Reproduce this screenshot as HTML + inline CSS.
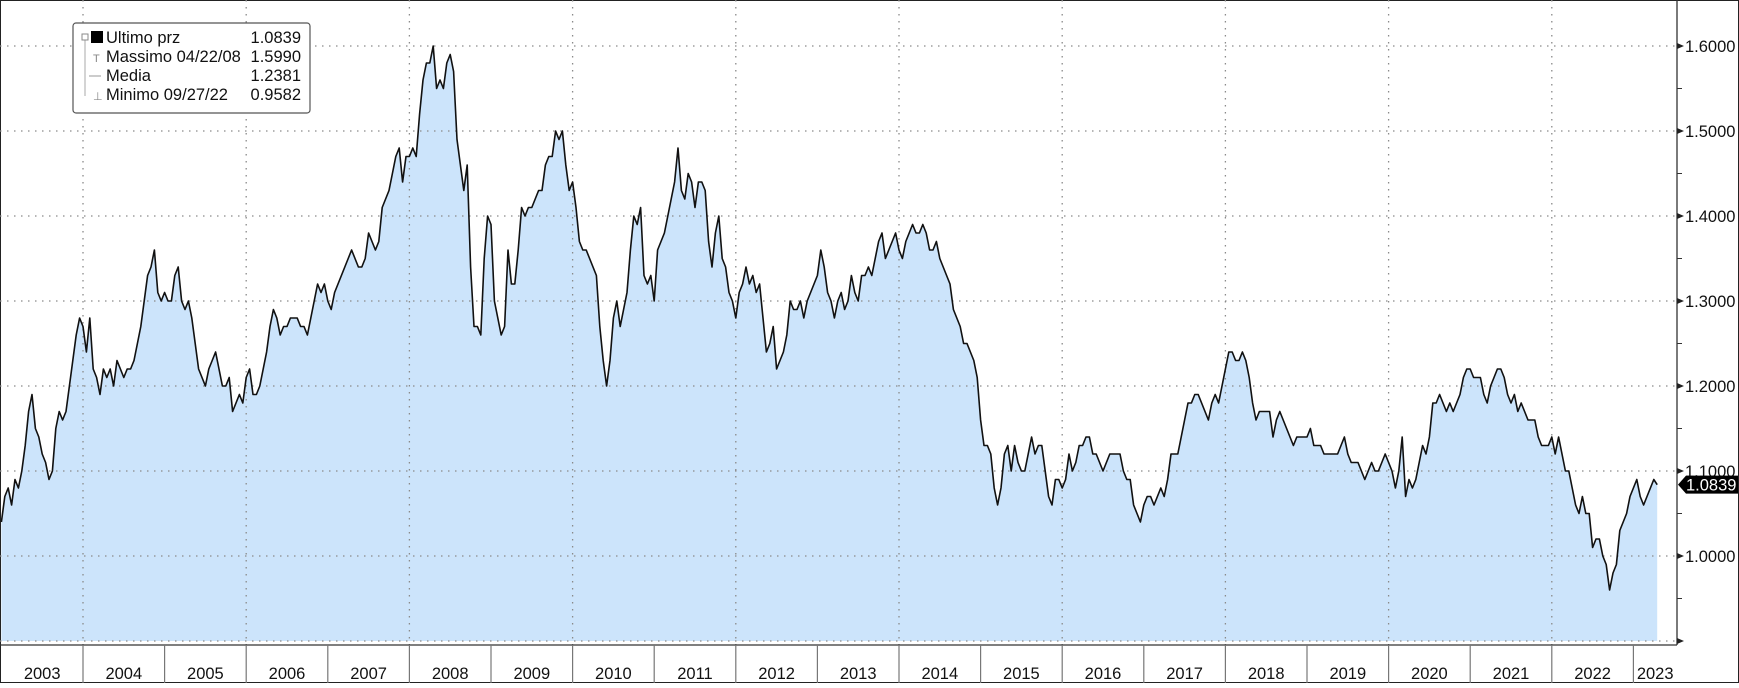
<!DOCTYPE html>
<html><head><meta charset="utf-8">
<style>
html,body{margin:0;padding:0;background:#fff;}
body{width:1739px;height:683px;overflow:hidden;font-family:"Liberation Sans",sans-serif;}
svg text{font-family:"Liberation Sans",sans-serif;}
</style></head>
<body>
<svg id="chart" width="1739" height="683" viewBox="0 0 1739 683" xmlns="http://www.w3.org/2000/svg">
  <rect x="0.5" y="0.5" width="1738" height="682" fill="#fff" stroke="#222" stroke-width="1"/>
  <g id="grid"></g>
  <path id="area" fill="#cce4fb" stroke="none"/>
  <g id="grid2"></g>
  <path id="line" fill="none" stroke="#111" stroke-width="1.6" stroke-linejoin="round"/>
  <g id="axes"></g>
  <g id="legend">
    <rect x="73" y="23" width="237" height="90" rx="3" fill="#fff" stroke="#555" stroke-width="1.2"/>
    <line x1="85" y1="40" x2="85" y2="96" stroke="#aaa"/>
    <rect x="82" y="34" width="6" height="6" fill="#fff" stroke="#888"/>
    <rect x="91" y="31" width="12" height="12" fill="#000"/>
    <text x="106" y="43" font-size="16.5" fill="#111">Ultimo prz</text>
    <text x="301" y="43" font-size="16.5" fill="#111" text-anchor="end">1.0839</text>
    <text x="93" y="62" font-size="11" fill="#888">T</text>
    <text x="106" y="62" font-size="16.5" fill="#111">Massimo 04/22/08</text>
    <text x="301" y="62" font-size="16.5" fill="#111" text-anchor="end">1.5990</text>
    <line x1="89" y1="76" x2="101" y2="76" stroke="#999"/>
    <text x="106" y="81" font-size="16.5" fill="#111">Media</text>
    <text x="301" y="81" font-size="16.5" fill="#111" text-anchor="end">1.2381</text>
    <text x="93" y="100" font-size="11" fill="#888">⊥</text>
    <text x="106" y="100" font-size="16.5" fill="#111">Minimo 09/27/22</text>
    <text x="301" y="100" font-size="16.5" fill="#111" text-anchor="end">0.9582</text>
  </g>
  <g id="lastlabel"></g>
</svg>
<script>
const startYear = 2003;
const years = [2003,2004,2005,2006,2007,2008,2009,2010,2011,2012,2013,2014,2015,2016,2017,2018,2019,2020,2021,2022,2023];
const yTicks = [0.9,1.0,1.1,1.2,1.3,1.4,1.5,1.6];
const yTickLabels = ["","1.0000","1.1000","1.2000","1.3000","1.4000","1.5000","1.6000"];
const lastValue = 1.0839;
// semi-monthly EUR/USD values
const v2003 = [1.04,1.07,1.08,1.06,1.09,1.08,1.10,1.13,1.17,1.19,1.15,1.14,1.12,1.11,1.09,1.10,1.15,1.17,1.16,1.17,1.20,1.23,1.26,1.28];
const v2004 = [1.27,1.24,1.28,1.22,1.21,1.19,1.22,1.21,1.22,1.20,1.23,1.22,1.21,1.22,1.22,1.23,1.25,1.27,1.30,1.33,1.34,1.36,1.31,1.30];
const v2005 = [1.31,1.30,1.30,1.33,1.34,1.30,1.29,1.30,1.28,1.25,1.22,1.21,1.20,1.22,1.23,1.24,1.22,1.20,1.20,1.21,1.17,1.18,1.19,1.18];
const v2006 = [1.21,1.22,1.19,1.19,1.20,1.22,1.24,1.27,1.29,1.28,1.26,1.27,1.27,1.28,1.28,1.28,1.27,1.27,1.26,1.28,1.30,1.32,1.31,1.32];
const v2007 = [1.30,1.29,1.31,1.32,1.33,1.34,1.35,1.36,1.35,1.34,1.34,1.35,1.38,1.37,1.36,1.37,1.41,1.42,1.43,1.45,1.47,1.48,1.44,1.47];
const v2008 = [1.47,1.48,1.47,1.52,1.56,1.58,1.58,1.60,1.55,1.56,1.55,1.58,1.59,1.57,1.49,1.46,1.43,1.46,1.34,1.27,1.27,1.26,1.35,1.40];
const v2009 = [1.39,1.30,1.28,1.26,1.27,1.36,1.32,1.32,1.36,1.41,1.40,1.41,1.41,1.42,1.43,1.43,1.46,1.47,1.47,1.50,1.49,1.50,1.46,1.43];
const v2010 = [1.44,1.41,1.37,1.36,1.36,1.35,1.34,1.33,1.27,1.23,1.20,1.23,1.28,1.30,1.27,1.29,1.31,1.36,1.40,1.39,1.41,1.33,1.32,1.33];
const v2011 = [1.30,1.36,1.37,1.38,1.40,1.42,1.44,1.48,1.43,1.42,1.45,1.44,1.41,1.44,1.44,1.43,1.37,1.34,1.38,1.40,1.35,1.34,1.31,1.30];
const v2012 = [1.28,1.31,1.32,1.34,1.32,1.33,1.31,1.32,1.28,1.24,1.25,1.27,1.22,1.23,1.24,1.26,1.30,1.29,1.29,1.30,1.28,1.30,1.31,1.32];
const v2013 = [1.33,1.36,1.34,1.31,1.30,1.28,1.30,1.31,1.29,1.30,1.33,1.31,1.30,1.33,1.33,1.34,1.33,1.35,1.37,1.38,1.35,1.36,1.37,1.38];
const v2014 = [1.36,1.35,1.37,1.38,1.39,1.38,1.38,1.39,1.38,1.36,1.36,1.37,1.35,1.34,1.33,1.32,1.29,1.28,1.27,1.25,1.25,1.24,1.23,1.21];
const v2015 = [1.16,1.13,1.13,1.12,1.08,1.06,1.08,1.12,1.13,1.10,1.13,1.11,1.10,1.10,1.12,1.14,1.12,1.13,1.13,1.10,1.07,1.06,1.09,1.09];
const v2016 = [1.08,1.09,1.12,1.10,1.11,1.13,1.13,1.14,1.14,1.12,1.12,1.11,1.10,1.11,1.12,1.12,1.12,1.12,1.10,1.09,1.09,1.06,1.05,1.04];
const v2017 = [1.06,1.07,1.07,1.06,1.07,1.08,1.07,1.09,1.12,1.12,1.12,1.14,1.16,1.18,1.18,1.19,1.19,1.18,1.17,1.16,1.18,1.19,1.18,1.20];
const v2018 = [1.22,1.24,1.24,1.23,1.23,1.24,1.23,1.21,1.18,1.16,1.17,1.17,1.17,1.17,1.14,1.16,1.17,1.16,1.15,1.14,1.13,1.14,1.14,1.14];
const v2019 = [1.14,1.15,1.13,1.13,1.13,1.12,1.12,1.12,1.12,1.12,1.13,1.14,1.12,1.11,1.11,1.11,1.10,1.09,1.10,1.11,1.10,1.10,1.11,1.12];
const v2020 = [1.11,1.10,1.08,1.10,1.14,1.07,1.09,1.08,1.09,1.11,1.13,1.12,1.14,1.18,1.18,1.19,1.18,1.17,1.18,1.17,1.18,1.19,1.21,1.22];
const v2021 = [1.22,1.21,1.21,1.21,1.19,1.18,1.20,1.21,1.22,1.22,1.21,1.19,1.18,1.19,1.17,1.18,1.17,1.16,1.16,1.16,1.14,1.13,1.13,1.13];
const v2022 = [1.14,1.12,1.14,1.12,1.10,1.10,1.08,1.06,1.05,1.07,1.05,1.05,1.01,1.02,1.02,1.00,0.99,0.96,0.98,0.99,1.03,1.04,1.05,1.07];
const v2023 = [1.08,1.09,1.07,1.06,1.07,1.08,1.09,1.0839];

const series = [].concat(v2003,v2004,v2005,v2006,v2007,v2008,v2009,v2010,v2011,v2012,v2013,v2014,v2015,v2016,v2017,v2018,v2019,v2020,v2021,v2022,v2023);

const NS = "http://www.w3.org/2000/svg";
const X0 = 1.4, YEARW = 81.6, AXX = 1677, AXY = 645;
function xT(t){ return X0 + (t - startYear) * YEARW; }
function yV(v){ return 556 - (v - 1.0) * 850; }
function mk(tag, attrs, parent){ const e = document.createElementNS(NS, tag); for (const k in attrs) e.setAttribute(k, attrs[k]); parent.appendChild(e); return e; }

let d = "";
series.forEach((v, i) => {
  const x = xT(startYear + i / 24), y = yV(v);
  d += (i ? "L" : "M") + x.toFixed(1) + "," + y.toFixed(1);
});
const lastX = xT(startYear + (series.length - 1) / 24);
document.getElementById("line").setAttribute("d", d);
document.getElementById("area").setAttribute("d", d + "L" + lastX.toFixed(1) + "," + yV(0.9) + "L" + xT(startYear) + "," + yV(0.9) + "Z");

const grid = document.getElementById("grid2");
yTicks.forEach(v => {
  const g = mk("line", {x1: 0, x2: AXX, y1: yV(v), y2: yV(v), stroke: "#8a8a8a", "stroke-width": 1.3, "stroke-dasharray": "1.5 5.5"}, grid);
  
  
});
years.forEach(yr => {
  if (yr % 2 === 0) {
    const g = mk("line", {x1: xT(yr), x2: xT(yr), y1: 0, y2: AXY, stroke: "#8a8a8a", "stroke-width": 1.3, "stroke-dasharray": "1.5 5.5"}, grid);
    
    
  }
});

const axes = document.getElementById("axes");
const ya = mk("line", {x1: AXX, x2: AXX, y1: 0, y2: AXY, stroke: "#333", "stroke-width": 1.3}, axes);


const xa = mk("line", {x1: 0, x2: AXX, y1: AXY, y2: AXY, stroke: "#333", "stroke-width": 1.3}, axes);


yTicks.forEach((v, i) => {
  const y = yV(v);
  const tk = mk("path", {d: "M" + AXX + "," + (y - 3) + "L" + (AXX + 7) + "," + y + "L" + AXX + "," + (y + 3) + "Z", fill: "#222"}, axes);
  
  
  const mv = v + 0.05;
  if (mv < 1.65) {
    const m = mk("line", {x1: AXX, x2: AXX + 5, y1: yV(mv), y2: yV(mv), stroke: "#333"}, axes);
    
    
  }
  if (yTickLabels[i]) {
    const t = mk("text", {x: AXX + 8, y: y + 6, "font-size": 16.5, fill: "#111"}, axes);
    t.textContent = yTickLabels[i];
    
    
  }
});
years.forEach(yr => {
  if (yr > startYear) {
    const s = mk("line", {x1: xT(yr), x2: xT(yr), y1: AXY, y2: 683, stroke: "#777", "stroke-width": 1.2}, axes);
    
    
  }
  const cx = yr === 2023 ? (xT(yr) + AXX) / 2 : xT(yr) + YEARW / 2;
  const t = mk("text", {x: cx, y: 679, "font-size": 16.5, fill: "#111", "text-anchor": "middle"}, axes);
  t.textContent = String(yr);
  
  
});

const ll = document.getElementById("lastlabel");
const ly = yV(lastValue);
const box = mk("path", {d: "M1678," + ly + "L1686," + (ly - 9) + "L1738," + (ly - 9) + "L1738," + (ly + 9) + "L1686," + (ly + 9) + "Z", fill: "#000"}, ll);


const lt = mk("text", {x: 1686, y: ly + 6, "font-size": 16.5, fill: "#fff"}, ll);
lt.textContent = lastValue.toFixed(4);


</script>
</body></html>
